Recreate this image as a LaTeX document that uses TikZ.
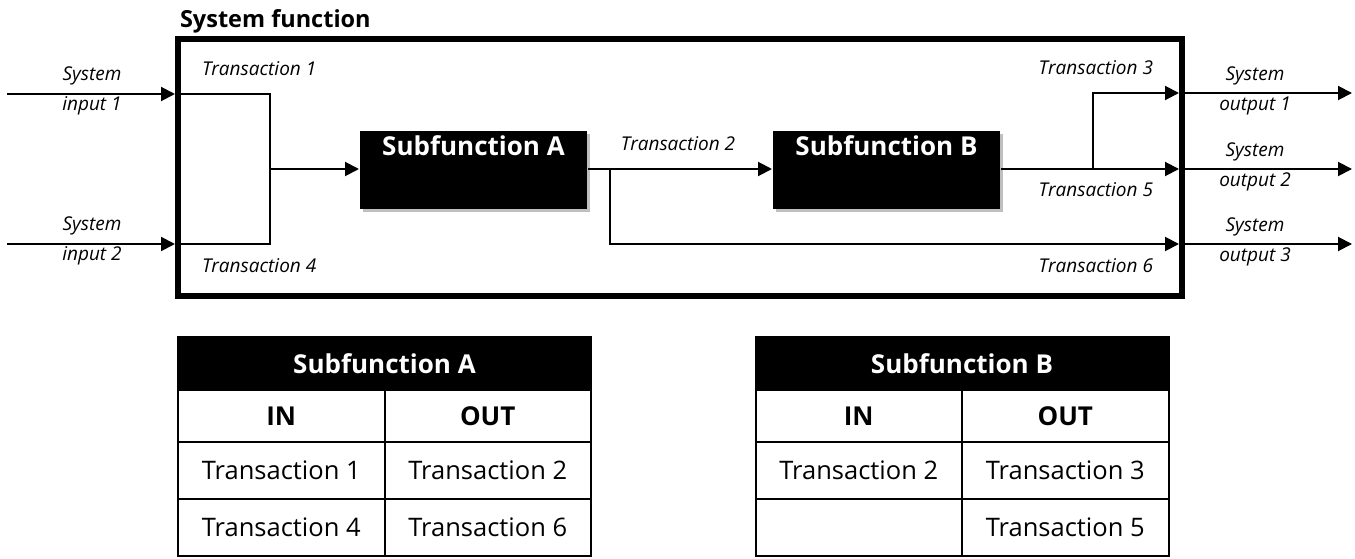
\documentclass[tikz,border=0pt]{standalone}
\usepackage{fontspec}
\setmainfont{Open Sans}
\usetikzlibrary{arrows.meta,shadows}

\tikzset{
    sysbox/.style={draw, line width=6pt, minimum width=1004pt, minimum height=257pt, inner sep=0pt},
    subfn/.style={fill=black, text=white, inner sep=0pt, minimum width=227pt,
        text height=25pt, text depth=53pt, font=\fontsize{26}{30}\selectfont\bfseries,
        drop shadow={shadow xshift=3pt, shadow yshift=-3pt, fill=black!25, opacity=1}},
    tlabel/.style={font=\fontsize{19}{30}\selectfont\itshape, inner sep=0pt, align=center},
    thead/.style={draw, fill=black, text=white, minimum width=413pt, minimum height=53pt,
        inner sep=0pt, font=\fontsize{26}{30}\selectfont\bfseries},
    tcell/.style={draw, minimum width=206.5pt, minimum height=57pt, inner sep=0pt, font=\fontsize{25.5}{30}\selectfont},
    tcolhead/.style={tcell, minimum height=52pt, font=\fontsize{26}{30}\selectfont\bfseries},
}

\begin{document}
\begin{tikzpicture}[x=1pt, y=-1pt, line width=2pt, >={Triangle[length=14pt, width=14pt]}]
        \useasboundingbox (0,0) rectangle (1355,559);

        % system function box
        \node[sysbox] (sys) at (680,167.5) {};
        \node[anchor=base west, inner sep=0pt, font=\fontsize{23.5}{28}\selectfont\bfseries] (systitle) at (179,28) {System function};

        \node[subfn] (sfa) at (473.5,130) [anchor=north] {Subfunction A};
        \node[subfn] (sfb) at (886.5,130) [anchor=north] {Subfunction B};

        % inputs
        \coordinate (in1) at (7,94);
        \coordinate (in2) at (7,244);
        \coordinate (ja) at (270,169);
        \draw[->] (in1) -- (in1 -| sys.west);
        \draw[->] (in2) -- (in2 -| sys.west);
        \draw (in1 -| sys.west) -| (ja) |- (in2 -| sys.west);
        \draw[->] (ja) -- (sfa.west |- ja);

        % inner transactions
        \coordinate (o3) at (1179,93);
        \coordinate (o5) at (1179,169);
        \coordinate (o6) at (1179,244);
        \coordinate (jb) at (610,169);
        \coordinate (jc) at (1093,169);
        \draw[->] (sfa.east |- jb) -- (sfb.west |- jb);
        \draw[->] (jb) |- (o6);
        \draw[->] (sfb.east |- jc) -- (o5);
        \draw[->] (jc) |- (o3);

        % outputs
        \coordinate (out1) at (1352,93);
        \coordinate (out2) at (1352,169);
        \coordinate (out3) at (1352,244);
        \foreach \o in {1,2,3} {
            \draw[->] (out\o -| sys.east) -- (out\o);
        }

        % labels
        \node[tlabel] (lin1) at (92,91) {System\\input 1};
        \node[tlabel] (lin2) at (92,241) {System\\input 2};
        \node[tlabel] (lout1) at (1255,91) {System\\output 1};
        \node[tlabel] (lout2) at (1255,167) {System\\output 2};
        \node[tlabel] (lout3) at (1255,242) {System\\output 3};
        \node[tlabel, anchor=west] (lt1) at (201,69) {Transaction 1};
        \node[tlabel, anchor=west] (lt4) at (201,266) {Transaction 4};
        \node[tlabel] (lt2) at (678,144) {Transaction 2};
        \node[tlabel, anchor=east] (lt3) at (1154,68) {Transaction 3};
        \node[tlabel, anchor=east] (lt5) at (1154,190) {Transaction 5};
        \node[tlabel, anchor=east] (lt6) at (1154,266) {Transaction 6};

        % table A
        \node[thead] (tha) at (384.5,363.5) {Subfunction A};
        \node[tcolhead] (ain) at (281.25,416) {IN};
        \node[tcolhead] (aout) at (487.75,416) {OUT};
        \node[tcell] (ain1) at (281.25,470.5) {Transaction 1};
        \node[tcell] (aout1) at (487.75,470.5) {Transaction 2};
        \node[tcell] (ain2) at (281.25,527.5) {Transaction 4};
        \node[tcell] (aout2) at (487.75,527.5) {Transaction 6};

        % table B
        \node[thead] (thb) at (962,363.5) {Subfunction B};
        \node[tcolhead] (bin) at (858.75,416) {IN};
        \node[tcolhead] (bout) at (1065.25,416) {OUT};
        \node[tcell] (bin1) at (858.75,470.5) {Transaction 2};
        \node[tcell] (bout1) at (1065.25,470.5) {Transaction 3};
        \node[tcell] (bin2) at (858.75,527.5) {};
        \node[tcell] (bout2) at (1065.25,527.5) {Transaction 5};
    \end{tikzpicture}
\end{document}
